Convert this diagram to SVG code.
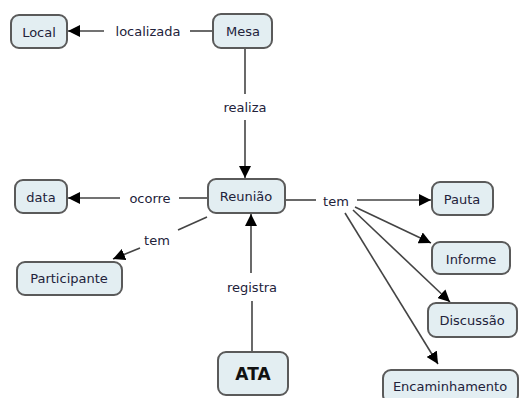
<svg xmlns="http://www.w3.org/2000/svg" width="519" height="398" viewBox="0 0 519 398">
<style>
.n rect{fill:#e3eef2;stroke:#5a5a5a;stroke-width:2}
text{font-family:"DejaVu Sans",Verdana,sans-serif;font-size:13px;fill:#22223a;text-anchor:middle;dominant-baseline:central}
.c line{stroke:#444;stroke-width:1.6}
.b{font-weight:bold;font-size:17px;fill:#111}
</style>
<defs>
<marker id="a" viewBox="0 0 10 10" refX="10" refY="5" markerWidth="12" markerHeight="12" markerUnits="userSpaceOnUse" orient="auto">
<path d="M0,0L10,5L0,10z" fill="#000"/>
</marker>
</defs>
<rect width="519" height="398" fill="#fff"/>
<g class="c">
<line x1="190" y1="31" x2="213" y2="31"/>
<line x1="104" y1="31" x2="68" y2="31" marker-end="url(#a)"/>
<line x1="245" y1="48" x2="245" y2="94"/>
<line x1="245" y1="120" x2="245" y2="178" marker-end="url(#a)"/>
<line x1="179" y1="198" x2="208" y2="198"/>
<line x1="120" y1="198" x2="68" y2="198" marker-end="url(#a)"/>
<line x1="207" y1="217" x2="178" y2="230"/>
<line x1="140" y1="248" x2="113" y2="259" marker-end="url(#a)"/>
<line x1="251" y1="273" x2="251" y2="214" marker-end="url(#a)"/>
<line x1="252" y1="301" x2="252" y2="351"/>
<line x1="285" y1="200" x2="316" y2="200"/>
<line x1="357" y1="200" x2="431" y2="200" marker-end="url(#a)"/>
<line x1="355" y1="207" x2="431" y2="243" marker-end="url(#a)"/>
<line x1="353" y1="210" x2="450" y2="302" marker-end="url(#a)"/>
<line x1="345" y1="213" x2="438" y2="364" marker-end="url(#a)"/>
</g>
<text x="148" y="31">localizada</text>
<text x="245" y="107">realiza</text>
<text x="150" y="198">ocorre</text>
<text x="157" y="240">tem</text>
<text x="252" y="287">registra</text>
<text x="336" y="201">tem</text>
<g id="local" class="n"><rect x="11" y="15" width="56" height="33" rx="8"/><text x="39" y="32">Local</text></g>
<g id="mesa" class="n"><rect x="213" y="14" width="59" height="34" rx="8"/><text x="243" y="31">Mesa</text></g>
<g id="reuniao" class="n"><rect x="208" y="179" width="77" height="34" rx="8"/><text x="246" y="196">Reunião</text></g>
<g id="data" class="n"><rect x="15" y="180" width="52" height="33" rx="8"/><text x="41" y="197">data</text></g>
<g id="participante" class="n"><rect x="17" y="262" width="105" height="33" rx="8"/><text x="69" y="278">Participante</text></g>
<g id="ata" class="n"><rect x="218" y="352" width="70" height="43" rx="8"/><text class="b" x="253" y="374">ATA</text></g>
<g id="pauta" class="n"><rect x="432" y="182" width="61" height="33" rx="8"/><text x="462" y="199">Pauta</text></g>
<g id="informe" class="n"><rect x="432" y="242" width="78" height="32" rx="8"/><text x="471" y="259">Informe</text></g>
<g id="discussao" class="n"><rect x="428" y="303" width="89" height="34" rx="8"/><text x="472" y="320">Discussão</text></g>
<g id="encaminhamento" class="n"><rect x="383" y="370" width="135" height="33" rx="8"/><text x="450" y="386">Encaminhamento</text></g>
</svg>
